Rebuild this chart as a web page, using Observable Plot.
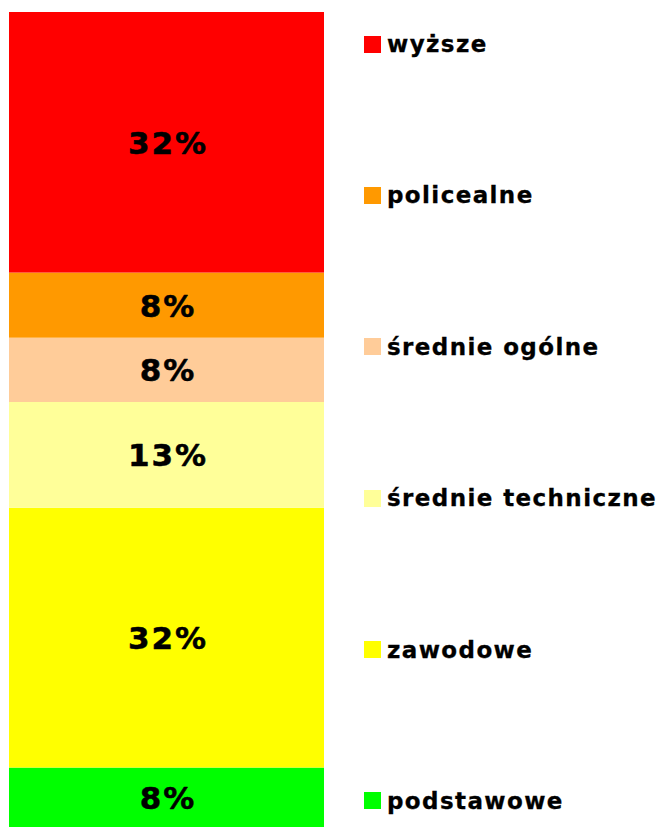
<!DOCTYPE html>
<html>
<head>
<meta charset="utf-8">
<script src="https://cdn.jsdelivr.net/npm/d3@7"></script>
<script src="https://cdn.jsdelivr.net/npm/@observablehq/plot@0.6"></script>
<style>
  html, body { margin: 0; padding: 0; background: #fff; }
  #wrap { position: relative; width: 664px; height: 827px; }
  #legend {
    position: absolute; left: 364px; top: 32px; height: 781px;
    display: flex; flex-direction: column; justify-content: space-between;
    font-family: Verdana, "DejaVu Sans", sans-serif; font-weight: bold; font-size: 23px; color: #000;
    letter-spacing: 1.4px; -webkit-text-stroke: 0.3px #000;
  }
  .item { display: flex; align-items: center; height: 24px; white-space: nowrap; }
  .sw { width: 17px; height: 17px; margin-right: 6px; }
</style>
</head>
<body>
<div id="wrap"></div>
<script>
// bottom to top
const categories = ["podstawowe", "zawodowe", "średnie techniczne", "średnie ogólne", "policealne", "wyższe"];
const values = [7.3, 31.9, 13.0, 7.9, 8.0, 32.0];
const labels = ["8%", "32%", "13%", "8%", "8%", "32%"];
const colors = ["#00FF00", "#FFFF00", "#FFFF99", "#FFCC99", "#FF9900", "#FF0000"];

const data = categories.map((c, i) => ({category: c, value: values[i], label: labels[i], bar: "total"}));
const total = d3.sum(values);

const chart = Plot.plot({
  width: 664,
  height: 827,
  marginTop: 12,
  marginBottom: 0,
  marginLeft: 9,
  marginRight: 340,
  x: {type: "band", domain: ["total"], padding: 0, axis: null},
  y: {domain: [0, total], axis: null},
  color: {domain: categories, range: colors},
  marks: [
    Plot.barY(data, Plot.stackY({x: "bar", y: "value", fill: "category", order: null})),
    Plot.text(data, Plot.stackY({x: "bar", y: "value", text: "label", order: null,
      fill: "#000", stroke: "#000", strokeWidth: 0.5,
      fontSize: 31, fontWeight: "bold", fontFamily: "Verdana, 'DejaVu Sans', sans-serif",
      dx: 1, dy: 1}))
  ]
});
chart.querySelectorAll("text").forEach(t => t.setAttribute("letter-spacing", "2"));
const wrap = document.getElementById("wrap");
wrap.appendChild(chart);

const legend = document.createElement("div");
legend.id = "legend";
categories.slice().reverse().forEach(c => {
  const item = document.createElement("div");
  item.className = "item";
  const sw = document.createElement("span");
  sw.className = "sw";
  sw.style.background = colors[categories.indexOf(c)];
  const t = document.createElement("span");
  t.textContent = c;
  item.appendChild(sw);
  item.appendChild(t);
  legend.appendChild(item);
});
wrap.appendChild(legend);
</script>
</body>
</html>
